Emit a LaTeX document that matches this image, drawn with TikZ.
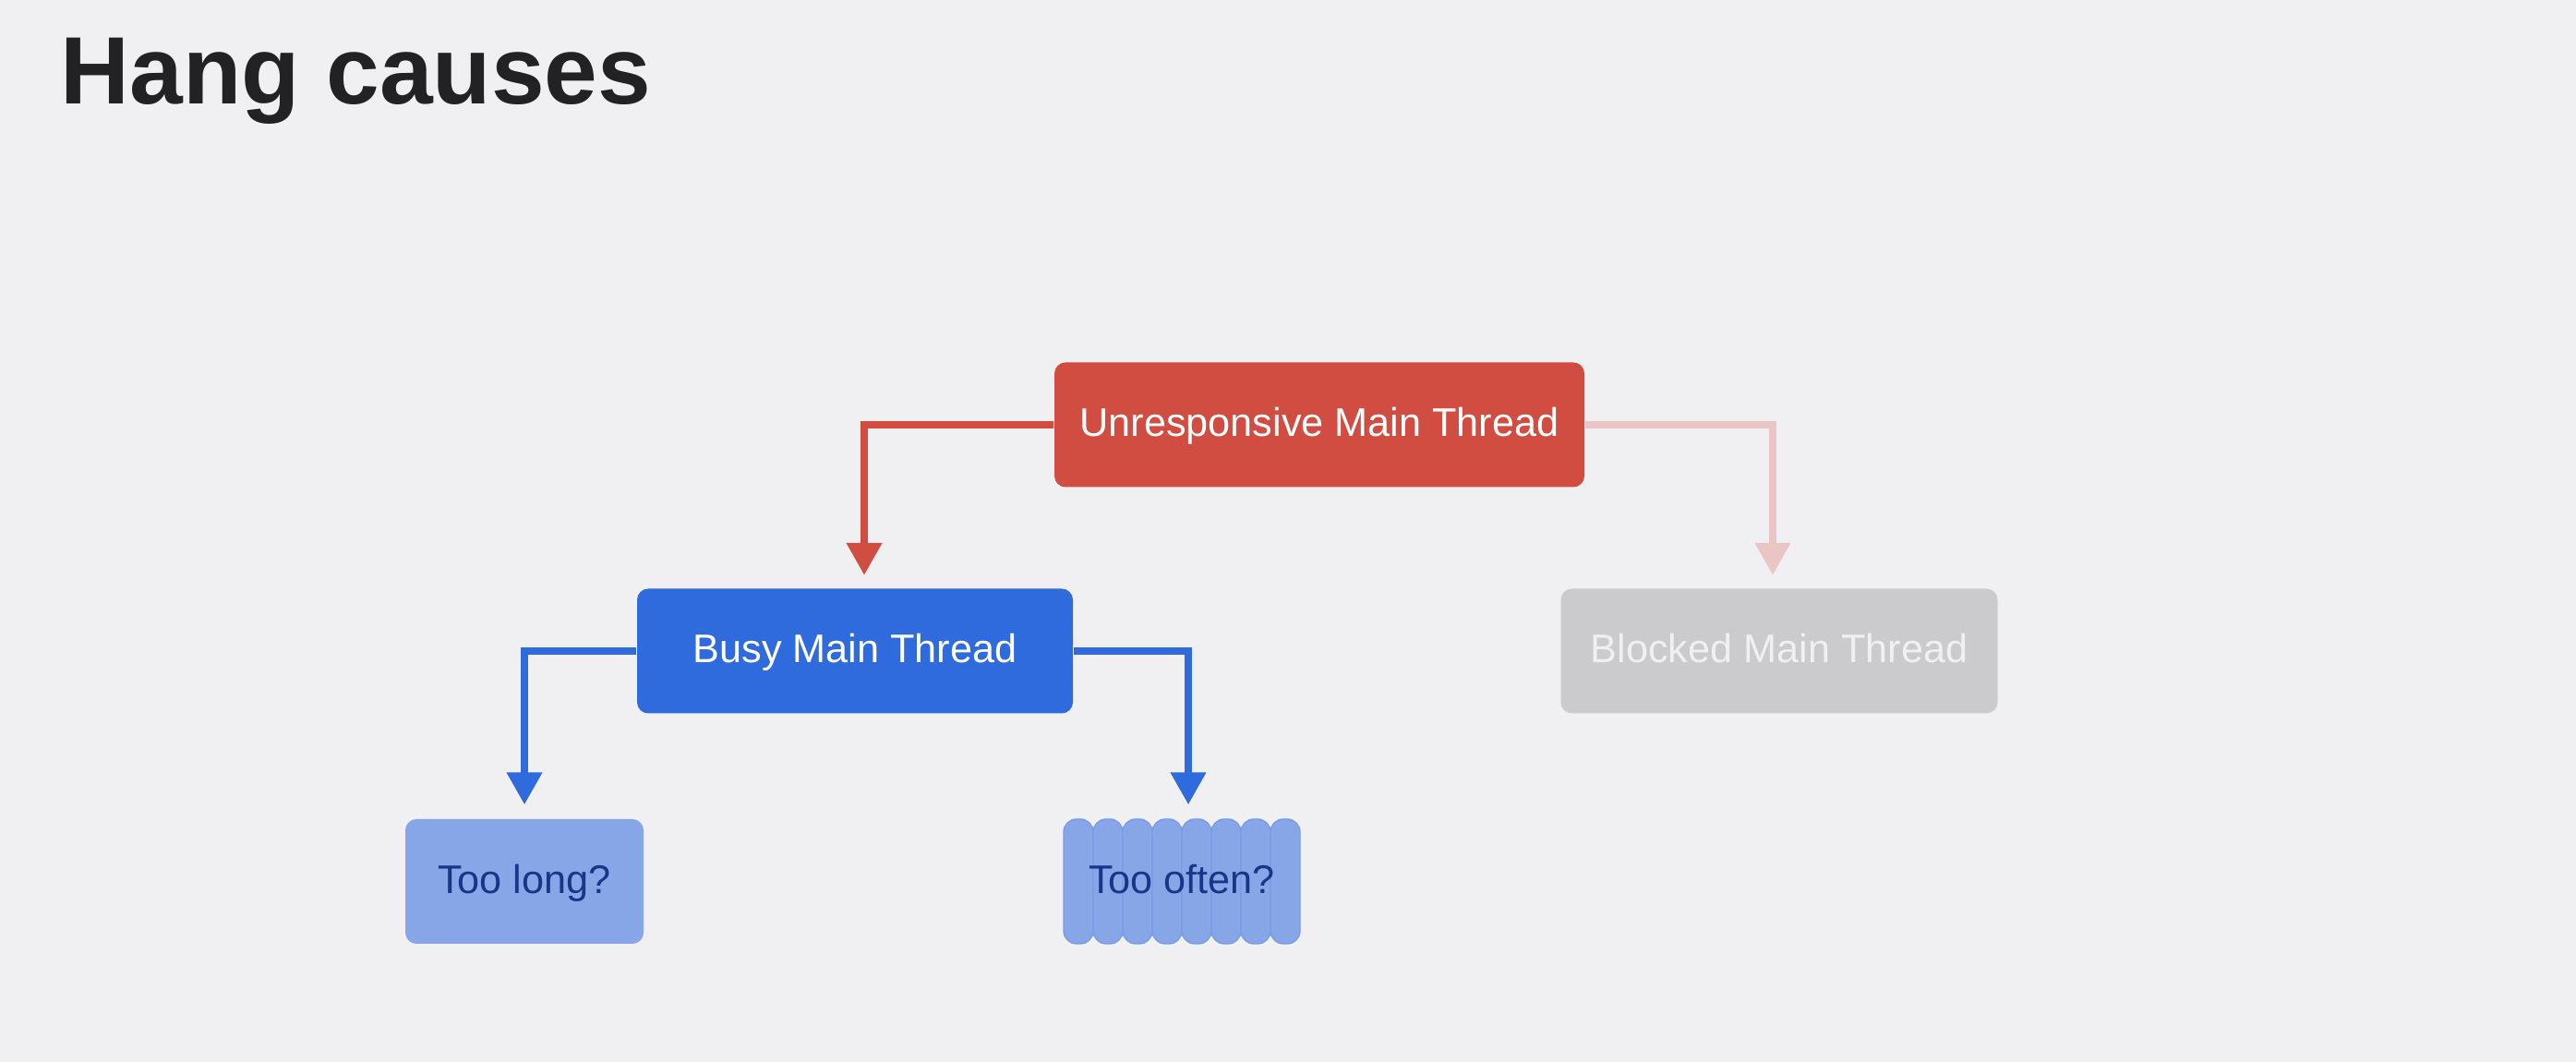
\documentclass[tikz,border=0pt]{standalone}
\usepackage{fontspec}
\setmainfont{Liberation Sans}
\usetikzlibrary{arrows.meta}

\definecolor{bgcol}{RGB}{240,240,242}
\definecolor{hangred}{RGB}{209,77,65}
\definecolor{palered}{RGB}{233,197,196}
\definecolor{busyblue}{RGB}{47,107,221}
\definecolor{lightblue}{RGB}{134,166,232}
\definecolor{seamblue}{RGB}{122,156,228}
\definecolor{darkblue}{RGB}{26,52,136}
\definecolor{greybox}{RGB}{203,203,205}

\newcommand*{\xmax}{27.9}
\newcommand*{\ymin}{-11.5}

\begin{document}
\begin{tikzpicture}
[
	box/.style={rounded corners=0.12cm,minimum height=1.35cm,inner sep=0pt,text height=0.72em,text depth=0pt,font=\fontsize{12.3}{14}\selectfont},
	link/.style={line width=0.075cm,-{Triangle[length=0.35cm,width=0.37cm]}},
	stripe/.style={fill=lightblue,draw=seamblue,line width=0.4pt,rounded corners=0.14cm}
]

	% background
	\fill[bgcol] (0,0) rectangle (\xmax,\ymin);

	% title
	\node[anchor=base west,inner sep=0pt,font=\fontsize{29.5}{34}\selectfont\bfseries,text={rgb,255:red,34;green,34;blue,36}] (title) at (0.65,-1.13) {Hang causes};

	% boxes
	\node[box,fill=hangred,text=white,minimum width=5.74cm] (unresp) at (14.29,-4.60) {Unresponsive Main Thread};
	\node[box,fill=busyblue,text=white,minimum width=4.72cm] (busy) at (9.26,-7.05) {Busy Main Thread};
	\node[box,fill=greybox,text=bgcol,minimum width=4.73cm] (blocked) at (19.27,-7.05) {Blocked Main Thread};
	\node[box,fill=lightblue,text=darkblue,minimum width=2.58cm] (toolong) at (5.68,-9.545) {Too long?};

	% stripes behind "too often"
	\foreach \i in {0,1,...,7} {
		\filldraw[stripe] (11.52+0.32*\i,-8.87) rectangle ++(0.32,-1.35);
	}
	\node[box,text=darkblue,minimum width=2.56cm] (toooften) at (12.80,-9.545) {Too often?};

	% arrows
	\draw[link,hangred] (unresp.west) -| ([xshift=0.1cm,yshift=0.14cm]busy.north);
	\draw[link,palered] (unresp.east) -| ([xshift=-0.07cm,yshift=0.14cm]blocked.north);
	\draw[link,busyblue] (busy.west) -| ([yshift=0.15cm]toolong.north);
	\draw[link,busyblue] (busy.east) -| ([xshift=0.07cm,yshift=0.15cm]toooften.north);

\end{tikzpicture}
\end{document}
